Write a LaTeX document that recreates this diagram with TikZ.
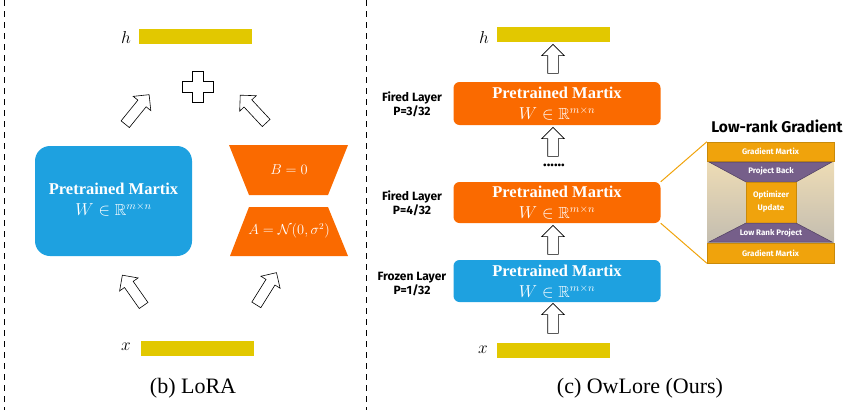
\documentclass[tikz,border=0pt]{standalone}
\usepackage{fontspec}
\usepackage{amssymb}
\setmainfont{Liberation Serif}
\newfontfamily\comicfont{Fira Sans}
\usetikzlibrary{shapes.arrows}
\definecolor{myorange}{HTML}{FA6A00}
\definecolor{myblue}{HTML}{1EA1E0}
\definecolor{myyellow}{HTML}{E2C800}
\definecolor{gold}{HTML}{F0A30C}
\definecolor{golddark}{HTML}{C98A0A}
\definecolor{purp}{HTML}{765F8A}
\definecolor{purpdark}{HTML}{4F3F60}
\definecolor{beigetop}{HTML}{EEDCB5}
\definecolor{beigebot}{HTML}{C3BDB0}
\begin{document}
\begin{tikzpicture}[x=1pt,y=-1pt,
  bar/.style={fill=myyellow, minimum width=113pt, minimum height=15pt, inner sep=0pt},
  lbl/.style={font=\fontsize{17}{19}\selectfont},
  blockarrow/.style={single arrow, draw=black, fill=white, line width=0.6pt, inner xsep=0pt, inner ysep=5pt, minimum width=22pt, single arrow head extend=6pt},
  mattext/.style={text=white, inner sep=0pt},
  matname/.style={mattext, font=\bfseries\fontsize{16.5}{18}\selectfont},
  matmath/.style={mattext, font=\fontsize{16}{18}\selectfont},
  layerbox/.style={rounded corners=6pt, minimum width=207pt, inner sep=0pt},
  layerlbl/.style={align=center, font=\comicfont\bfseries\fontsize{12}{14.5}\selectfont},
  paneltext/.style={text=white, align=center, font=\comicfont\bfseries\fontsize{8}{9}\selectfont},
  divider/.style={line width=0.6pt, dash pattern=on 6pt off 5pt},
  caption/.style={font=\fontsize{22}{24}\selectfont}
]
\useasboundingbox (0,0) rectangle (849,410);
% dividers
\draw[divider] (4,0) -- (4,410);
\draw[divider] (366,0) -- (366,410);

% ---------- (b) LoRA ----------
\node[bar] (hL) at (195.5,36.5) {};
\node[lbl] (hLl) at (126,37) {$h$};
\node[bar] (xL) at (197.5,348) {};
\node[lbl] (xLl) at (126,347) {$x$};
\draw[fill=white, line width=0.6pt] (192.5,71) -- (203.5,71) -- (203.5,81) -- (213.5,81) -- (213.5,92) -- (203.5,92) -- (203.5,102) -- (192.5,102) -- (192.5,92) -- (182.5,92) -- (182.5,81) -- (192.5,81) -- cycle;
\node[fill=myblue, rounded corners=15pt, minimum width=157pt, minimum height=110pt] (W) at (113.5,201) {};
\node[matname] (Wn) at (113.5,189) {Pretrained Martix};
\node[matmath] (Wm) at (113.5,210) {$W \in \mathbb{R}^{m\times n}$};
\fill[myorange] (229,145) -- (348,145) -- (328,195) -- (249,195) -- cycle;
\node[text=white, font=\fontsize{13.5}{15}\selectfont] (B) at (289,170) {$B=0$};
\fill[myorange] (249,207) -- (328,207) -- (348,256) -- (230,256) -- cycle;
\node[text=white, font=\fontsize{13.5}{15}\selectfont] (A) at (289,231) {$A=\mathcal{N}(0,\sigma^2)$};
\node[blockarrow, minimum height=38pt, rotate=51] (a1) at (135.5,111.5) {};
\node[blockarrow, minimum height=38pt, rotate=133] (a2) at (255,111) {};
\node[blockarrow, minimum height=37pt, rotate=125] (a3) at (134.5,292.5) {};
\node[blockarrow, minimum height=38pt, rotate=58] (a4) at (265,291) {};
\node[caption] (capb) at (193,388) {(b) LoRA};

% ---------- (c) OwLore ----------
\node[bar] (hR) at (553,34) {};
\node[lbl] (hRl) at (484,37) {$h$};
\node[bar] (xR) at (553.5,350) {};
\node[lbl] (xRl) at (483,350) {$x$};
\node[layerbox, fill=myorange, minimum height=43pt] (L3) at (557,103.5) {};
\node[matname] (L3n) at (557,92.5) {Pretrained Martix};
\node[matmath] (L3m) at (557,113.5) {$W \in \mathbb{R}^{m\times n}$};
\node[layerbox, fill=myorange, minimum height=41pt] (L4) at (557,202.5) {};
\node[matname] (L4n) at (557,192) {Pretrained Martix};
\node[matmath] (L4m) at (557,213) {$W \in \mathbb{R}^{m\times n}$};
\node[layerbox, fill=myblue, minimum height=42pt] (L1) at (557,281) {};
\node[matname] (L1n) at (557,270.5) {Pretrained Martix};
\node[matmath] (L1m) at (557,291.5) {$W \in \mathbb{R}^{m\times n}$};
\node[layerlbl] (t3) at (412,104.5) {Fired Layer\\P=3/32};
\node[layerlbl] (t4) at (412,203.5) {Fired Layer\\P=4/32};
\node[layerlbl] (t1) at (412,284) {Frozen Layer\\P=1/32};
\node[font=\comicfont\bfseries\fontsize{15}{16}\selectfont, inner sep=0pt] (dots) at (554,165) {......};
\node[blockarrow, minimum height=29pt, rotate=90] (v1) at (553,61.5) {};
\node[blockarrow, minimum height=29pt, rotate=90] (v2) at (553,144.5) {};
\node[blockarrow, minimum height=29pt, rotate=90] (v3) at (553,242.5) {};
\node[blockarrow, minimum height=30pt, rotate=90] (v4) at (553,321) {};
\node[caption] (capc) at (640,388) {(c) OwLore (Ours)};

% ---------- Low-rank gradient panel ----------
\node[font=\comicfont\bfseries\fontsize{15.5}{17}\selectfont] (title) at (777,126) {Low-rank Gradient};
\node[minimum width=127pt, minimum height=121pt, inner sep=0pt] (panel) at (770.5,202.5) {};
\shade[top color=beigetop, bottom color=beigebot] (707,161) rectangle (834,243);
\node[paneltext, fill=gold, draw=golddark, line width=0.5pt, minimum width=127pt, minimum height=19pt] (gtop) at (770.5,151.5) {Gradient Martix};
\node[paneltext, fill=gold, draw=golddark, line width=0.5pt, minimum width=127pt, minimum height=20pt] (gbot) at (770.5,253) {Gradient Martix};
\filldraw[fill=purp, draw=purpdark, line width=0.5pt] (709,162) -- (832,162) -- (796,182) -- (746,182) -- cycle;
\node[paneltext] (pb) at (771,171) {Project Back};
\filldraw[fill=gold, draw=golddark, line width=0.6pt] (746,182) rectangle (796,223);
\node[paneltext] (opt) at (771,202) {Optimizer\\[4pt]Update};
\filldraw[fill=purp, draw=purpdark, line width=0.5pt] (746,223) -- (796,223) -- (832,242) -- (709,242) -- cycle;
\node[paneltext] (lrp) at (771,233) {Low Rank Project};
\draw[gold, line width=1pt] (L4.north east) -- (panel.north west);
\draw[gold, line width=1pt] (L4.south east) -- (panel.south west);
\end{tikzpicture}
\end{document}
